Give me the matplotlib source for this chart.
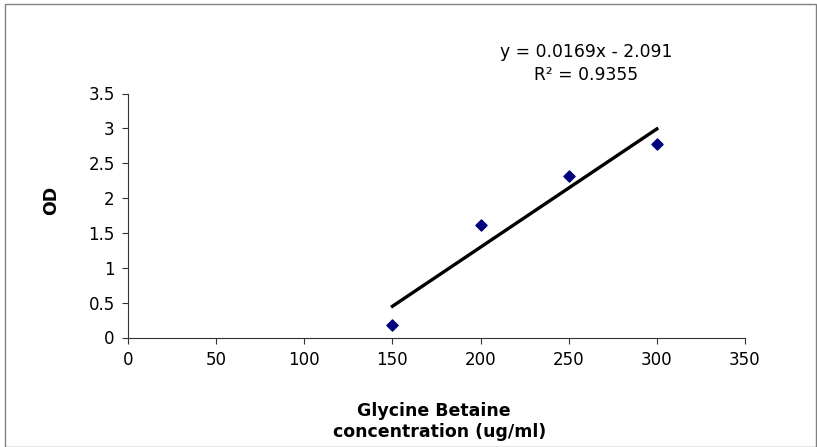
import matplotlib
matplotlib.use("Agg")
import matplotlib.pyplot as plt
import numpy as np
from matplotlib.patches import Rectangle

concentration = [150, 200, 250, 300]
od = [0.18, 1.61, 2.32, 2.77]
x_ticks = [0, 50, 100, 150, 200, 250, 300, 350]
y_ticks = [0, 0.5, 1, 1.5, 2, 2.5, 3, 3.5]
y_tick_labels = ["0", "0.5", "1", "1.5", "2", "2.5", "3", "3.5"]
eq_text = "y = 0.0169x - 2.091"
r2_text = "R² = 0.9355"

plt.rcParams['font.family'] = ['DejaVu Sans']

W, H = 817, 447
fig = plt.figure(figsize=(W/100, H/100), dpi=100)
ax = fig.add_axes([128/W, 1-337.5/H, (745-128)/W, (337.5-93.5)/H])

ax.scatter(concentration, od, marker='D', s=32, color='#000080', zorder=3)
slope, intercept = np.polyfit(concentration, od, 1)
xs = np.array([min(concentration), max(concentration)])
ax.plot(xs, slope*xs + intercept, color='black', lw=2.4, zorder=2)

ax.set_xlim(0, 350)
ax.set_ylim(0, 3.5)
ax.set_xticks(x_ticks)
ax.set_yticks(y_ticks)
ax.set_yticklabels(y_tick_labels)
ax.tick_params(direction='out', length=4.5, width=0.8, labelsize=12, color='#333333',
               labelcolor='black', pad=5)
for s in ['top', 'right']:
    ax.spines[s].set_visible(False)
for s in ['left', 'bottom']:
    ax.spines[s].set_color('#333333')
    ax.spines[s].set_linewidth(0.8)

fig.text(586/W, 1-57/H, eq_text, ha='center', va='baseline', fontsize=12.3)
fig.text(586/W, 1-80/H, r2_text, ha='center', va='baseline', fontsize=12.3)

fig.text(51/W, 1-200/H, "OD", rotation=90, ha='center', va='center', fontsize=12.5, fontweight='bold')
fig.text(434/W, 1-416/H, "Glycine Betaine", ha='center', va='baseline', fontsize=12.5, fontweight='bold')
fig.text(440/W, 1-437/H, "concentration (ug/ml)", ha='center', va='baseline', fontsize=12.5, fontweight='bold')

fig.patches.append(Rectangle((5/W, 0), 1-5/W-0.001, 1-4/H, transform=fig.transFigure,
                             fill=False, edgecolor='#808080', lw=1))

fig.savefig("out.png", dpi=100)
